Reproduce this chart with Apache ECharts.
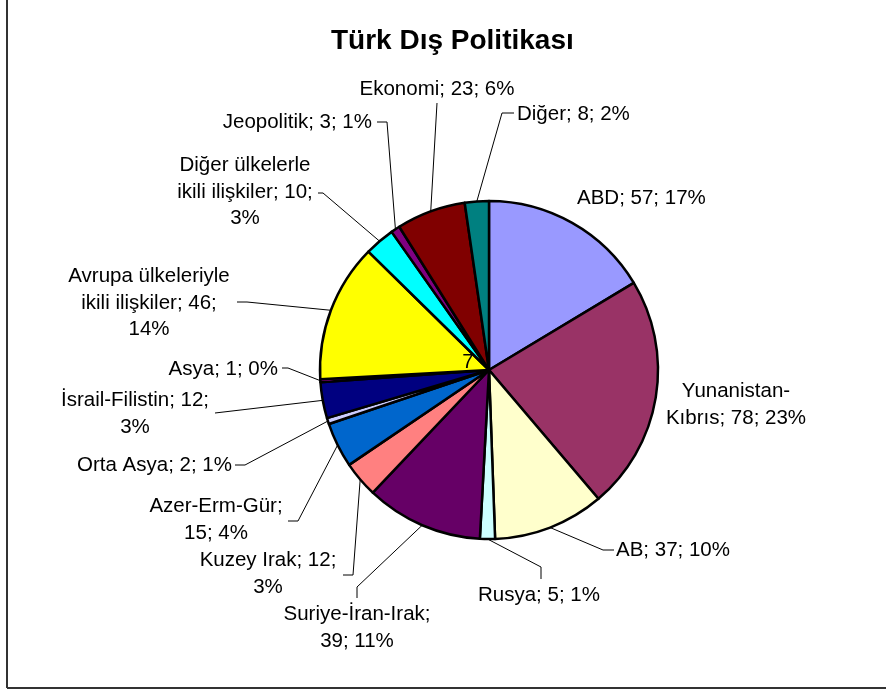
<!DOCTYPE html>
<html>
<head>
<meta charset="utf-8">
<script src="https://cdn.jsdelivr.net/npm/echarts@6/dist/echarts.min.js"></script>
<style>
html,body{margin:0;padding:0;background:#fff;}
#chart{width:886px;height:690px;}
</style>
</head>
<body>
<div id="chart"></div>
<script>
const title = 'Türk Dış Politikası';
const names = ['ABD','Yunanistan-Kıbrıs','AB','Rusya','Suriye-İran-Irak','Kuzey Irak','Azer-Erm-Gür','Orta Asya','İsrail-Filistin','Asya','Avrupa ülkeleriyle ikili ilişkiler','Diğer ülkelerle ikili ilişkiler','Jeopolitik','Ekonomi','Diğer'];
const values = [57,78,37,5,39,12,15,2,12,1,46,10,3,23,8];
const percents = ['17%','23%','10%','1%','11%','3%','4%','1%','3%','0%','14%','3%','1%','6%','2%'];
const strayLabel = '7';

// styles / layout (not data)
const colors = ['#9999FF','#993366','#FFFFCC','#CCFFFF','#660066','#FF8080','#0066CC','#CCCCFF','#000080','#FF00FF','#FFFF00','#00FFFF','#800080','#800000','#008080'];
const labelLayouts = [
  {x:577,y:198,align:'left', line:null},
  {x:736,y:405,align:'center', br:[1,3], line:null},
  {x:616,y:550,align:'left', line:[[603,550],[614,550]]},
  {x:478,y:595,align:'left', line:[[541,567],[541,579]]},
  {x:357,y:628,align:'center', br:[3,2], line:[[357,587],[357,598]]},
  {x:268,y:574,align:'center', br:[3,1], line:[[353,575],[343,575]]},
  {x:216,y:520,align:'center', br:[3,2], line:[[298,521],[288,521]]},
  {x:232,y:465,align:'right', line:[[245,465],[235,465]]},
  {x:135,y:414,align:'center', br:[3,1], line:[[215,413]]},
  {x:278,y:369,align:'right', line:[[288,368],[282,368]]},
  {x:149,y:303,align:'center', br:[2,3,1], line:[[247,302],[237,302]]},
  {x:245,y:192,align:'center', br:[2,3,1], line:[[323,193],[318,193]]},
  {x:372,y:122,align:'right', line:[[387,122],[377,122]]},
  {x:437,y:89,align:'center', line:[[437,103]]},
  {x:517,y:114,align:'left', line:[[502,113],[514,113]]}
];

function labelText(i){
  const full = names[i] + '; ' + values[i] + '; ' + percents[i];
  const br = labelLayouts[i].br;
  if (!br) return full;
  const tokens = full.split(/(?<=[- ])/);
  const lines = [];
  let k = 0;
  br.forEach(n => { lines.push(tokens.slice(k, k + n).join('').trim()); k += n; });
  return lines.join('\n');
}

const pieData = names.map((n, i) => ({
  name: n,
  value: values[i],
  itemStyle: { color: colors[i] },
  labelLine: { show: !!labelLayouts[i].line }
}));

const chart = echarts.init(document.getElementById('chart'), null, {renderer:'canvas'});
chart.setOption({
  backgroundColor: '#ffffff',
  animation: false,
  title: {
    text: title,
    left: 326,
    top: 22,
    textStyle: { fontFamily: 'Liberation Sans, Arial, sans-serif', fontSize: 28, fontWeight: 'bold', color: '#000' }
  },
  graphic: [
    { type: 'line', shape: {x1:7, y1:0, x2:7, y2:688}, style: {stroke:'#333', lineWidth:2}, silent: true },
    { type: 'line', shape: {x1:7, y1:688, x2:886, y2:688}, style: {stroke:'#333', lineWidth:2}, silent: true },
    { type: 'text', x: 468, y: 362, z: 100, style: { text: strayLabel, fill: '#000', font: '20.5px "Liberation Sans", Arial, sans-serif', textAlign: 'center', textVerticalAlign: 'middle' }, silent: true }
  ],
  series: [{
    type: 'pie',
    center: [489, 370],
    radius: 169,
    startAngle: 90,
    clockwise: true,
    avoidLabelOverlap: false,
    data: pieData,
    itemStyle: { borderColor: '#000', borderWidth: 2.5 },
    emphasis: { disabled: true },
    label: {
      show: true,
      position: 'outside',
      overflow: 'none',
      formatter: p => labelText(p.dataIndex),
      fontFamily: 'Liberation Sans, Arial, sans-serif',
      fontSize: 20.5,
      lineHeight: 26.5,
      color: '#000'
    },
    labelLine: { show: true, length: 10, length2: 10, smooth: false, lineStyle: { color: '#000', width: 1 } },
    labelLayout: function (params) {
      const L = labelLayouts[params.dataIndex];
      const res = { x: L.x, y: L.y, align: L.align, verticalAlign: 'middle' };
      if (L.line && params.labelLinePoints && params.labelLinePoints.length) {
        res.labelLinePoints = [params.labelLinePoints[0]].concat(L.line);
      }
      return res;
    }
  }]
});
</script>
</body>
</html>
